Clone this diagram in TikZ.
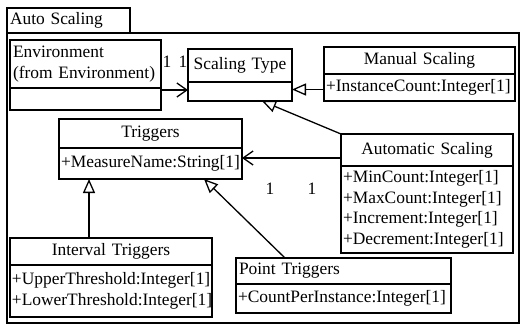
\documentclass[tikz,border=0pt]{standalone}
\usepackage{fontspec}
\setmainfont{Liberation Serif}
\usetikzlibrary{arrows.meta,positioning}

\begin{document}
\begin{tikzpicture}[x=1pt, y=-1pt, line width=1.3pt,
  font=\fontsize{17.4}{20.5}\selectfont,
  cname/.style={draw, anchor=north west, outer sep=0pt, inner xsep=3pt, inner ysep=0pt, align=center},
  cattr/.style={draw, anchor=north west, outer sep=0pt, inner xsep=2pt, inner ysep=0pt, align=left},
  gen/.style={-{Triangle[open, length=14pt, width=12pt]}},
  assoc/.style={-{Straight Barb[length=10pt, width=14pt]}},
  mult/.style={inner sep=0pt}]
\useasboundingbox (0,0) rectangle (521,325);
% package frame
\node[cname, align=left, text width=117pt, minimum height=25pt] (tab) at (7,8) {Auto Scaling};
\node[draw, anchor=north west, outer sep=0pt, inner sep=0pt, minimum width=512pt, minimum height=290pt] (pkg) at (tab.south west) {};
% classes
\node[cname, align=left, text width=145pt, minimum height=48pt] (envN) at (10,40) {Environment\\(from Environment)};
\node[cattr, text width=147pt, minimum height=22pt] (envA) at (envN.south west) {};
\node[cname, text width=98pt, minimum height=33pt] (stN) at (188,49) {Scaling Type};
\node[cattr, text width=100pt, minimum height=19pt] (stA) at (stN.south west) {};
\node[cname, text width=185pt, minimum height=27pt] (msN) at (324,47) {Manual Scaling};
\node[cattr, text width=187pt, minimum height=27pt] (msA) at (msN.south west) {+InstanceCount:Integer[1]};
\node[cname, text width=166pt, minimum height=32pt] (asN) at (341,134) {Automatic Scaling};
\node[cattr, text width=168pt, minimum height=87pt] (asA) at (asN.south west)
  {+MinCount:Integer[1]\\+MaxCount:Integer[1]\\+Increment:Integer[1]\\+Decrement:Integer[1]};
\node[cname, text width=177pt, minimum height=29pt] (trN) at (59,119) {Triggers};
\node[cattr, text width=179pt, minimum height=31pt] (trA) at (trN.south west) {+MeasureName:String[1]};
\node[cname, text width=196pt, minimum height=27pt] (itN) at (10,238) {Interval Triggers};
\node[cattr, text width=198pt, minimum height=52pt] (itA) at (itN.south west)
  {+UpperThreshold:Integer[1]\\+LowerThreshold:Integer[1]};
\node[cname, align=left, text width=209pt, minimum height=26pt] (ptN) at (236,258) {Point Triggers};
\node[cattr, text width=211pt, minimum height=29pt] (ptA) at (ptN.south west) {+CountPerInstance:Integer[1]};
% relations
\draw[assoc] ([yshift=-2pt]envA.north east) coordinate (c) -- (c -| stA.west);
\draw[gen] ([yshift=-2pt]msA.west) coordinate (d) -- (d -| stA.east);
\draw[gen] (asN.north west) -- ([xshift=-30pt]stA.south east);
\draw[assoc] ([yshift=-8pt]asN.west) coordinate (a) -- (a -| trA.east);
\draw[gen] ([xshift=-22pt]itN.north) coordinate (b) -- (b |- trA.south);
\draw[gen] ([xshift=49pt]ptN.north west) -- ([xshift=-38pt]trA.south east);
% multiplicities
\node[mult] (m1) at (167,62) {1};
\node[mult] (m2) at (183,62) {1};
\node[mult] (m3) at (270,189) {1};
\node[mult] (m4) at (312,189) {1};
\end{tikzpicture}
\end{document}
